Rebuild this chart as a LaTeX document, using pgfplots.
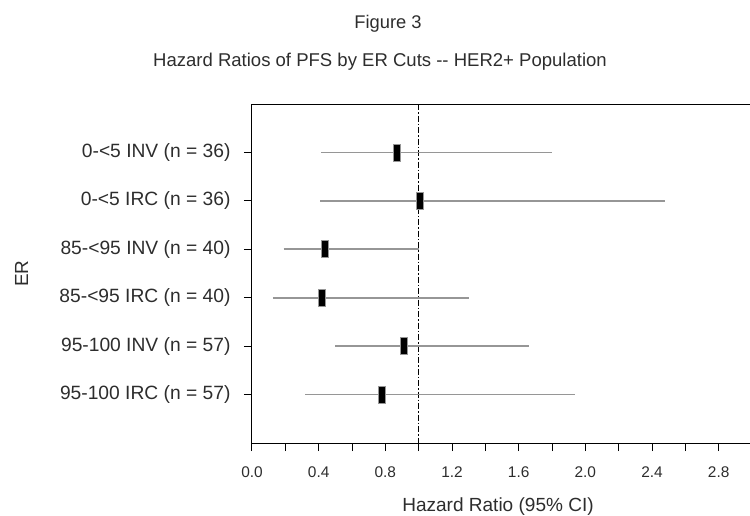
\documentclass[border=0pt]{standalone}
\usepackage{pgfplots}
\pgfplotsset{compat=1.18}
\usepackage{fontspec}
\setmainfont{Liberation Sans}
\definecolor{cigray}{RGB}{150,150,150}
\definecolor{txt}{RGB}{45,45,45}
\pgfdeclareplotmark{hrbox}{%
  \pgfpathrectangle{\pgfpoint{-3.5bp}{-8.5bp}}{\pgfpoint{7bp}{17bp}}%
  \pgfusepathqfillstroke}
\begin{document}
\begin{tikzpicture}
\useasboundingbox (-252bp,-73bp) rectangle (498bp,443bp);
\begin{axis}[
  at={(0,0)}, anchor=south west,
  scale only axis, width=510bp, height=339bp,
  xmin=0, xmax=3.06, ymin=0, ymax=7, y dir=reverse,
  axis line style={line width=1pt, black},
  xtick={0,0.4,...,2.81}, minor xtick={0.2,0.6,...,2.61},
  xticklabels={0.0,0.4,0.8,1.2,1.6,2.0,2.4,2.8},
  ytick={1,2,3,4,5,6},
  yticklabels={0-<5 INV (n = 36),0-<5 IRC (n = 36),85-<95 INV (n = 40),85-<95 IRC (n = 40),95-100 INV (n = 57),95-100 IRC (n = 57)},
  tick align=outside, major tick length=8bp, minor tick length=8bp,
  tick style={line width=1pt, black},
  xtick pos=bottom, ytick pos=left,
  /pgf/number format/assume math mode=true,
  xticklabel style={font=\fontsize{15.5}{18}\selectfont, text=txt, yshift=-12bp},
  yticklabel style={font=\fontsize{19.3}{21}\selectfont, text=txt, xshift=-10bp},
  clip=false,
]
\addplot[black, line width=0.8pt, dash pattern=on 6bp off 2bp on 1.5bp off 2bp] coordinates {(1,0) (1,7)};
\addplot[cigray, line width=1.6pt] coordinates {(0.415,1) (1.80,1)};
\addplot[cigray, line width=1.6pt] coordinates {(0.41,2) (2.48,2)};
\addplot[cigray, line width=1.6pt] coordinates {(0.19,3) (1.00,3)};
\addplot[cigray, line width=1.6pt] coordinates {(0.126,4) (1.30,4)};
\addplot[cigray, line width=1.6pt] coordinates {(0.50,5) (1.66,5)};
\addplot[cigray, line width=1.6pt] coordinates {(0.32,6) (1.94,6)};
\addplot[only marks, mark=hrbox, mark options={fill=black, draw=cigray, line width=0.8pt}] coordinates {
  (0.87,1) (1.01,2) (0.44,3) (0.42,4) (0.91,5) (0.78,6)};
\end{axis}
\node[font=\fontsize{18.4}{20}\selectfont, text=txt] at (136bp,419bp) {Figure 3};
\node[font=\fontsize{18.6}{20}\selectfont, text=txt] at (128bp,381bp) {Hazard Ratios of PFS by ER Cuts -{}- HER2+ Population};
\node[font=\fontsize{19.1}{21}\selectfont, text=txt] at (246bp,-64bp) {Hazard Ratio (95\% CI)};
\node[font=\fontsize{19}{21}\selectfont, text=txt, rotate=90] at (-230.5bp,169.5bp) {ER};
\end{tikzpicture}
\end{document}
